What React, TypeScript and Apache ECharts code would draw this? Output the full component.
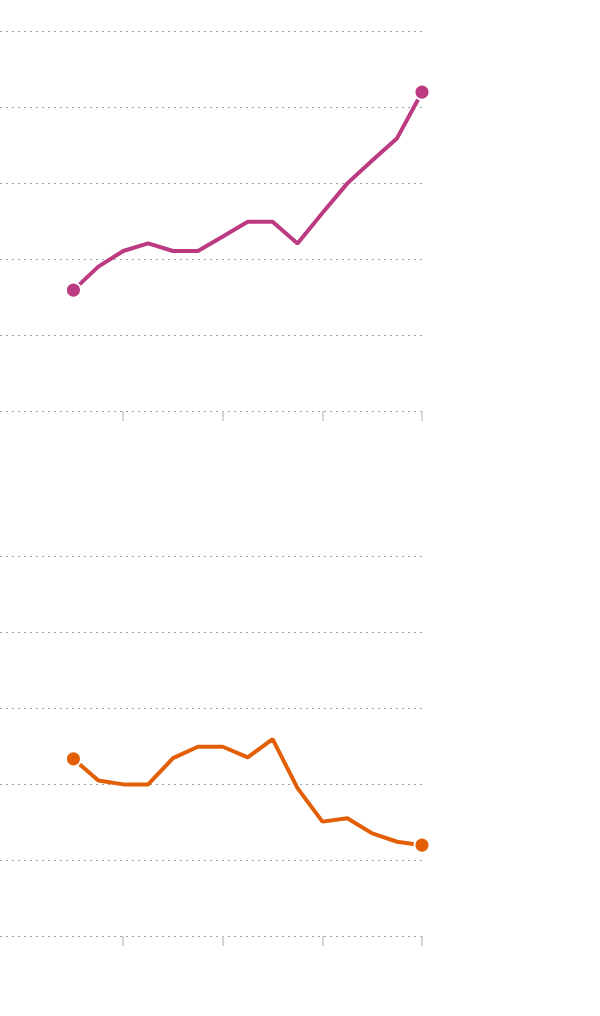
import React, { useEffect, useRef } from "react";
import * as echarts from "echarts";

// x positions (period index) shared by both panels
const periods = [0, 1, 2, 3, 4, 5, 6, 7, 8, 9, 10, 11, 12, 13, 14];
const tickPeriods = [2, 6, 10, 14];

// upper panel (magenta)
const upperValues = [31.8, 38.0, 42.1, 44.1, 42.1, 42.1, 45.9, 49.8, 49.8, 44.1, 52.1, 59.9, 65.9, 71.8, 83.9];
// lower panel (orange)
const lowerValues = [46.6, 40.9, 39.9, 39.9, 46.8, 49.8, 49.8, 47.0, 51.8, 38.9, 30.1, 31.0, 27.0, 24.8, 23.9];

const yMin = 0;
const yMax = 100;
const yStep = 20;

const App = () => {
  const chartRef = useRef<HTMLDivElement>(null);

  useEffect(() => {
    if (!chartRef.current) return;
    const chart = echarts.init(chartRef.current, undefined, { renderer: "svg" });

    const toData = (vals: number[]) =>
      vals.map((v, i) => {
        const item: any = { value: [periods[i], v] };
        if (i === 0 || i === vals.length - 1) {
          item.symbol = "circle";
          item.symbolSize = 15;
        }
        return item;
      });

    const xAxisBase = (gridIndex: number) => ({
      type: "value" as const,
      gridIndex,
      min: -2.95,
      max: 14,
      axisLine: { show: false },
      axisLabel: { show: false },
      splitLine: { show: false },
      axisTick: {
        show: true,
        customValues: tickPeriods,
        length: 10,
        lineStyle: { color: "#c8c8c8", width: 1.5 },
      },
    });

    const yAxisBase = (gridIndex: number) => ({
      type: "value" as const,
      gridIndex,
      min: yMin,
      max: yMax,
      interval: yStep,
      axisLine: { show: false },
      axisTick: { show: false },
      axisLabel: { show: false },
      splitLine: {
        show: true,
        lineStyle: { color: "#a0a0a0", type: [2, 4], width: 1 },
      },
    });

    const lineSeries = (idx: number, vals: number[], color: string) => ({
      type: "line" as const,
      xAxisIndex: idx,
      yAxisIndex: idx,
      data: toData(vals),
      symbol: "none",
      showSymbol: true,
      lineStyle: { color, width: 4 },
      itemStyle: { color, borderColor: "#fff", borderWidth: 2 },
      z: 5,
    });

    chart.setOption({
      animation: false,
      grid: [
        { left: 0, width: 422, top: 31, height: 380 },
        { left: 0, width: 422, top: 556, height: 380 },
      ],
      xAxis: [xAxisBase(0), xAxisBase(1)],
      yAxis: [yAxisBase(0), yAxisBase(1)],
      series: [
        lineSeries(0, upperValues, "#bc3a82"),
        lineSeries(1, lowerValues, "#e35f05"),
      ],
    });

    return () => chart.dispose();
  }, []);

  return (
    <div style={{ position: "absolute", left: 0, top: 0, width: 600, height: 1016, background: "#fff" }}>
      <div ref={chartRef} style={{ width: 600, height: 1016 }} />
    </div>
  );
};

export default App;
